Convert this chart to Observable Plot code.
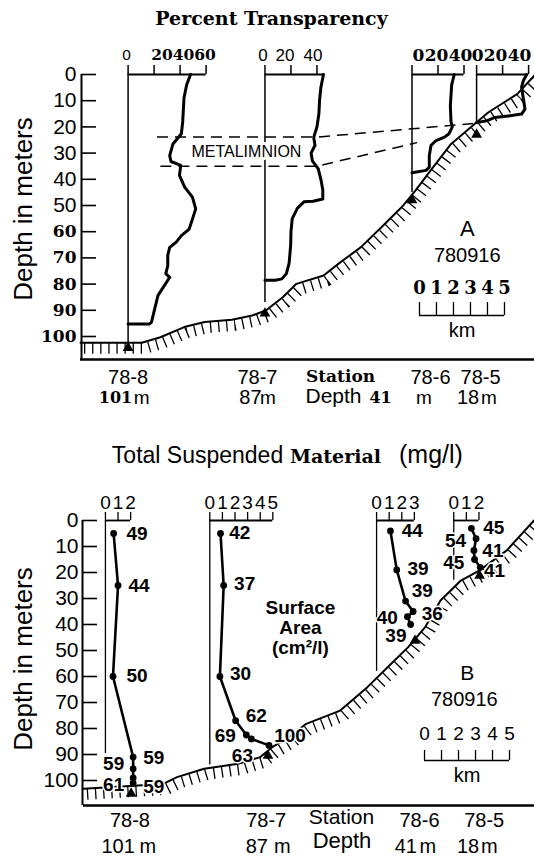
<!DOCTYPE html>
<html>
<head>
<meta charset="utf-8">
<script src="https://cdn.jsdelivr.net/npm/d3@7"></script>
<script src="https://cdn.jsdelivr.net/npm/@observablehq/plot@0.6"></script>
<style>
html,body{margin:0;padding:0;background:#fff;}
#wrap{position:relative;width:534px;height:858px;overflow:hidden;background:#fff;}
#a{position:absolute;left:0;top:0;}
#b{position:absolute;left:0;top:420px;}
svg{display:block;}
</style>
</head>
<body>
<div id="wrap"><div id="a"></div><div id="b"></div></div>
<script>
// ---------------- DATA ----------------
const stations = ["78-8", "78-7", "78-6", "78-5"];
const stationDepths = ["101 m", "87 m", "41 m", "18 m"];
const stationKm = [2.8, 10.85, 19.5, 23.3];           // distance along transect (km)
const depthTicks = [0, 10, 20, 30, 40, 50, 60, 70, 80, 90, 100];
const kmScaleTicks = [0, 1, 2, 3, 4, 5];
const surveyDate = "780916";
const panelLetters = ["A", "B"];

// Panel A: percent transparency
const pctScaleMax = [60, 45, 40, 40];
const pctTicks = [[0, 20, 40, 60], [0, 20, 40], [0, 20, 40], [0, 20, 40]];
const stationLineDepthA = [102.4, 87, 45, 18.8];
const stationMarkDepthA = [102.4, 89.3, 46, 21];

const transp788Depth = [0, 4, 9, 18, 22.6, 26.5, 31, 33.2, 34.7, 38.5, 43, 46.8, 51.3, 55.2, 59, 61.5, 64, 66, 69, 73, 76, 77.4, 80.5, 84.3, 89.4, 94.5, 95.2, 95.2];
const transp788Pct   = [48, 45, 43, 42, 41, 34.5, 32, 33, 40.5, 39.5, 43.5, 49.5, 52, 49.5, 47, 41, 37, 32, 30.5, 30.5, 29, 32, 28, 23, 20.5, 18, 16.5, 0];
const transp787Depth = [0, 5, 10, 15, 20, 24, 27, 30, 33, 36, 40, 44, 47.5, 48.4, 48.6, 51, 55, 60, 65, 72, 76, 78, 78.5, 78.5];
const transp787Pct   = [45, 43, 42, 41.5, 40, 37.5, 38.5, 35.5, 36.5, 41, 43, 44.5, 44.5, 37, 30, 25, 21, 20, 19.8, 18.6, 16.5, 13, 8, 0];
const transp786Depth = [0, 4, 12, 18, 20, 22.6, 23.9, 25.2, 27.1, 31, 35.4, 36.6, 37.5];
const transp786Pct   = [32.5, 30.5, 29.5, 30, 31, 28.5, 25, 18.5, 14.6, 13.3, 13.3, 10.8, 0];
const transp785Depth = [0, 2.3, 4.8, 9.3, 13.2, 15.1, 15.8, 16.4, 17.7, 18.3];
const transp785Pct   = [38.5, 36, 34.6, 36, 37.2, 34.6, 24.4, 14, 7.7, 0];

const metaUpperKm = [4.5, 13.9, 23.1];
const metaUpperDepth = [23.9, 23.9, 18.7];
const metaLowerKm = [4.7, 13.9, 19.8];
const metaLowerDepth = [35, 35, 26];
const metaLabel = "METALIMNION";

const bottomAKm    = [0, 3.6, 4.7, 6.1, 7.3, 8.9, 10.1, 10.9, 11.9, 12.7, 14.3, 15.3, 16.5, 17.7, 18.9, 19.7, 20.6, 21.8, 23.2, 24.0, 25.7, 26.7];
const bottomADepth = [102.4, 102.4, 100.3, 96.4, 94.5, 93.6, 92, 90.1, 85, 79.9, 76.7, 71.6, 65.9, 58.3, 50.6, 44.3, 36.6, 26.5, 18.8, 14.4, 7.4, 0.4];

// Panel B: total suspended material (mg/l) and surface area (cm2/l)
const tsmOriginKm = [1.29, 7.43, 17.24, 21.78];
const tsmScaleMax = [2, 5, 3, 2];
const tsmTicks = [[0, 1, 2], [0, 1, 2, 3, 4, 5], [0, 1, 2, 3], [0, 1, 2]];
const tsmAxisDepth = [89.6, 94, 58, 23];
const stationMarkDepthB = [103.1, 88.5, 44.3, 19.3];

const tsm788Depth = [5, 25, 60, 91, 95.5, 99, 101];
const tsm788      = [0.65, 1.0, 0.6, 2.2, 2.2, 2.2, 2.2];
const sa788       = [49, 44, 50, 59, 59, 61, 59];
const tsm787Depth = [5, 25, 60, 77, 82.5, 84, 86.5];
const tsm787      = [0.85, 1.1, 0.8, 2.05, 2.9, 3.3, 4.7];
const sa787       = [42, 37, 30, 62, 69, 63, 100];
const tsm786Depth = [4, 19, 31, 35, 37, 40];
const tsm786      = [1.1, 1.6, 2.3, 2.9, 2.45, 2.7];
const sa786       = [44, 39, 39, 36, 40, 39];
const tsm785Depth = [3, 7, 11.5, 15, 18];
const tsm785      = [1.4, 1.77, 1.6, 1.65, 2.1];
const sa785       = [45, 54, 41, 45, 41];

const bottomBKm    = [0, 4.7, 5.5, 7.1, 9.1, 10.4, 11.1, 12.1, 13.1, 15.1, 16.7, 18.1, 19.1, 20.1, 21.0, 22.2, 23.3, 24.9, 26.5];
const bottomBDepth = [103.2, 101.3, 98.7, 95.5, 93.6, 91, 87.2, 83.3, 78.2, 73.1, 64.1, 55.1, 48.7, 41, 30.8, 23.1, 19.2, 11.5, 0];

// ---------------- LAYOUT / STYLE ----------------
const PX = 17;                 // pixels per km
const pctKm = 1.3 / PX;        // km per percent
const tsmKm = 12.6 / PX;       // km per mg/l
const SANS = "Liberation Sans, Arial, Helvetica, sans-serif";
const SERIF = "DejaVu Serif, Georgia, serif";
const LAYOUT = {
  pctLabelDx: [[-1.6, 8, 3.5, -1], [-2, -6, -4], [6.5, -1.5, -3.5], [1, -7, -9]],
  pctLabelSerif: [[0, 1, 1, 1], [0, 0, 0], [1, 1, 1], [1, 1, 1]],
  pctLabelSize: [15.5, 17, 17, 17],
  rowDxA: [0, -7.5, 18.5, 4],
  numDxA: [-12.6, -14.5, -31.5, -8.5], unitDxA: [13.5, 3, 11.8, 12.3],
  numSerifA: [1, 0, 1, 0],
  rowDxB: [-1.2, -1.8, 4.5, 4.6],
  numDxB: [-13, -11.2, -9.2, -11.6], unitDxB: [16.7, 14.3, 12.9, 9.8],
  saDx: [[23.5, 21, 24, 20.6, -19.5, -19.5, 20.6], [19.2, 21, 20.6, 20.7, -21, -9, 21], [21.8, 21.3, 16.7, 19.2, -20.2, -14.7], [22.3, -20.6, 19, -20.8, 14.4]],
  saDy: [[0, 0, -1, 1, -5, 6.6, 4], [-1, -2, -3, -5, 1, 16.6, -9], [0, -1, -10, 2, 1, 11.7], [0, 2.5, 1, 3, 4]],
  metaLabel: {km: 9.76, depth: 29.6},
  letterA: {km: 22.75, depth: 58.8}, dateA: {km: 22.75, depth: 69}, barA: {km: 19.94, depth: 92},
  letterB: {km: 22.57, depth: 58.8}, dateB: {km: 22.4, depth: 68.8}, barB: {km: 20.06, depth: 92.3},
  surfLabel: {km: 12.76, depth: 41.2}
};

// ---------------- BUILD ----------------
const idx = d3.range(stations.length);
const asPts = (kms, deps) => kms.map((k, i) => ({km: k, depth: deps[i]}));
const prof = (deps, vals, origin, k) => deps.map((d, i) => ({km: origin + vals[i] * k, depth: d}));
const hatch = {stroke: "#000", strokeWidth: 11, strokeDasharray: "1.3,6.8", strokeLinecap: "butt", strokeLinejoin: "miter", dx: 3.5, dy: 5.5};
const haloText = (data, opts, w = 4) => [
  Plot.text(data, {...opts, fill: "#fff", stroke: "#fff", strokeWidth: w}),
  Plot.text(data, opts)
];

// ---- Panel A ----
const transpDepth = [transp788Depth, transp787Depth, transp786Depth, transp785Depth];
const transpPct = [transp788Pct, transp787Pct, transp786Pct, transp785Pct];
const profilesA = idx.map(i => prof(transpDepth[i], transpPct[i], stationKm[i], pctKm));
const bathyA = asPts(bottomAKm, bottomADepth);
const metaUp = asPts(metaUpperKm, metaUpperDepth);
const metaLo = asPts(metaLowerKm, metaLowerDepth);
const yMaxA = 285 / 2.62;
const pctTickData = idx.flatMap(i => pctTicks[i].map((t, j) => ({
  km: stationKm[i] + t * pctKm,
  lx: stationKm[i] + t * pctKm + LAYOUT.pctLabelDx[i][j] / PX,
  label: String(t), serif: LAYOUT.pctLabelSerif[i][j], size: LAYOUT.pctLabelSize[i]
})));
const numA = idx.map(i => ({i, t: stationDepths[i].split(" ")[0]}));
const unitA = idx.map(i => ({i, t: stationDepths[i].split(" ")[1]}));
const mid = {lineAnchor: "middle", textAnchor: "middle"};

const plotA = Plot.plot({
  width: 534, height: 420, marginTop: 74, marginBottom: 61, marginLeft: 80, marginRight: 0,
  x: {domain: [0, 454 / PX], axis: null},
  y: {domain: [0, yMaxA], reverse: true, axis: null},
  style: {background: "transparent", color: "#000", overflow: "visible"},
  marks: [
    Plot.line(bathyA, {x: "km", y: "depth", ...hatch}),
    Plot.line(bathyA, {x: "km", y: "depth", stroke: "#000", strokeWidth: 2}),
    Plot.ruleX([0], {dx: 1, strokeWidth: 2}),
    Plot.ruleY([yMaxA], {strokeWidth: 2.5}),
    Plot.ruleY(depthTicks, {y: d => d, x1: 0, x2: 0, dx: 1, insetRight: -15, strokeWidth: 1.6}),
    Plot.text(depthTicks.filter(d => d < 60), {x: 0, y: d => d, text: d => String(d), textAnchor: "end", dx: -4, fontSize: 21, fontFamily: SANS}),
    Plot.text(depthTicks.filter(d => d >= 60), {x: 0, y: d => d, text: d => String(d), textAnchor: "end", dx: -4, fontSize: 17, fontFamily: SERIF, fontWeight: "bold"}),
    Plot.text(["Depth in meters"], {frameAnchor: "left", ...mid, rotate: -90, dx: -57, dy: -8, fontSize: 26, fontFamily: SANS}),
    Plot.text(["Percent Transparency"], {frameAnchor: "top", ...mid, dx: -36, dy: -56, fontSize: 19, fontFamily: SERIF, fontWeight: "bold"}),
    // station lines and percent scales
    Plot.ruleX(idx, {x: i => stationKm[i], y1: 0, y2: i => stationLineDepthA[i], strokeWidth: 1.5}),
    Plot.ruleY(idx, {y: 0, x1: i => stationKm[i], x2: i => stationKm[i] + pctScaleMax[i] * pctKm, strokeWidth: 2}),
    Plot.ruleX(pctTickData, {x: "km", y1: 0, y2: 0, insetTop: -9, strokeWidth: 1.5}),
    Plot.text(pctTickData.filter(d => !d.serif), {x: "lx", y: 0, text: "label", dy: -19, fontSize: d => d.size, fontFamily: SANS}),
    Plot.text(pctTickData.filter(d => d.serif), {x: "lx", y: 0, text: "label", dy: -19, fontSize: d => d.size, fontFamily: SERIF, fontWeight: "bold"}),
    // metalimnion
    Plot.line(metaUp, {x: "km", y: "depth", strokeWidth: 1.5, strokeDasharray: "11,7", strokeLinecap: "butt"}),
    Plot.line(metaLo, {x: "km", y: "depth", strokeWidth: 1.5, strokeDasharray: "11,7", strokeLinecap: "butt"}),
    ...haloText([metaLabel], {x: LAYOUT.metaLabel.km, y: LAYOUT.metaLabel.depth, fontSize: 16, fontFamily: SANS}, 6),
    // profiles
    ...profilesA.map(p => Plot.line(p, {x: "km", y: "depth", strokeWidth: 3, strokeLinejoin: "round", strokeLinecap: "round"})),
    Plot.dot(idx, {x: i => stationKm[i], y: i => stationMarkDepthA[i], symbol: "triangle", r: 4, fill: "#000", dy: 5}),
    // station labels
    Plot.text(idx, {x: i => stationKm[i] + LAYOUT.rowDxA[i] / PX, text: i => stations[i], frameAnchor: "bottom", ...mid, dy: 18, fontSize: 20, fontFamily: SANS}),
    Plot.text(["Station"], {frameAnchor: "bottom", ...mid, dx: 33, dy: 17, fontSize: 17, fontFamily: SERIF, fontWeight: "bold"}),
    Plot.text(["Depth"], {frameAnchor: "bottom", ...mid, dx: 26, dy: 37, fontSize: 21, fontFamily: SANS}),
    Plot.text(numA.filter(d => LAYOUT.numSerifA[d.i]), {x: d => stationKm[d.i] + LAYOUT.numDxA[d.i] / PX, text: "t", frameAnchor: "bottom", ...mid, dy: 38, fontSize: 16, fontFamily: SERIF, fontWeight: "bold"}),
    Plot.text(numA.filter(d => !LAYOUT.numSerifA[d.i]), {x: d => stationKm[d.i] + LAYOUT.numDxA[d.i] / PX, text: "t", frameAnchor: "bottom", ...mid, dy: 38, fontSize: 20, fontFamily: SANS}),
    Plot.text(unitA, {x: d => stationKm[d.i] + LAYOUT.unitDxA[d.i] / PX, text: "t", frameAnchor: "bottom", ...mid, dy: 38, fontSize: 19, fontFamily: SANS}),
    // panel annotations
    Plot.text([panelLetters[0]], {x: LAYOUT.letterA.km, y: LAYOUT.letterA.depth, fontSize: 22, fontFamily: SANS}),
    Plot.text([surveyDate], {x: LAYOUT.dateA.km, y: LAYOUT.dateA.depth, fontSize: 20, fontFamily: SANS}),
    Plot.ruleY([LAYOUT.barA.depth], {x1: LAYOUT.barA.km, x2: LAYOUT.barA.km + 5, strokeWidth: 1.6}),
    Plot.ruleX(kmScaleTicks, {x: d => LAYOUT.barA.km + d, y1: LAYOUT.barA.depth, y2: LAYOUT.barA.depth, insetTop: -13, strokeWidth: 1.3}),
    Plot.text(kmScaleTicks, {x: d => LAYOUT.barA.km + d, y: LAYOUT.barA.depth, text: d => String(d), dy: -27, fontSize: 18, fontFamily: SERIF, fontWeight: "bold"}),
    Plot.text(["km"], {x: LAYOUT.barA.km + 2.5, y: LAYOUT.barA.depth, dy: 15, fontSize: 20, fontFamily: SANS})
  ]
});
document.getElementById("a").append(plotA);

// ---- Panel B ----
const tsmDepth = [tsm788Depth, tsm787Depth, tsm786Depth, tsm785Depth];
const tsmVal = [tsm788, tsm787, tsm786, tsm785];
const saVal = [sa788, sa787, sa786, sa785];
const profilesB = idx.map(i => prof(tsmDepth[i], tsmVal[i], tsmOriginKm[i], tsmKm));
const saLabels = idx.flatMap(i => tsmDepth[i].map((d, j) => ({
  km: tsmOriginKm[i] + tsmVal[i][j] * tsmKm + LAYOUT.saDx[i][j] / PX,
  depth: d + LAYOUT.saDy[i][j] / 2.6,
  t: String(saVal[i][j])
})));
const bathyB = asPts(bottomBKm, bottomBDepth);
const yMaxB = 285 / 2.6;
const tsmTickData = idx.flatMap(i => tsmTicks[i].map(t => ({km: tsmOriginKm[i] + t * tsmKm, label: String(t)})));
const numB = idx.map(i => ({i, t: stationDepths[i].split(" ")[0]}));
const unitB = idx.map(i => ({i, t: stationDepths[i].split(" ")[1]}));

const plotB = Plot.plot({
  width: 534, height: 438, marginTop: 100, marginBottom: 53, marginLeft: 83, marginRight: 0,
  x: {domain: [0, 451 / PX], axis: null},
  y: {domain: [0, yMaxB], reverse: true, axis: null},
  style: {background: "transparent", color: "#000", overflow: "visible"},
  marks: [
    Plot.line(bathyB, {x: "km", y: "depth", ...hatch}),
    Plot.line(bathyB, {x: "km", y: "depth", stroke: "#000", strokeWidth: 2}),
    Plot.ruleX([0], {dx: -1, strokeWidth: 2}),
    Plot.ruleY([yMaxB], {strokeWidth: 2.5}),
    Plot.ruleY(depthTicks, {y: d => d, x1: 0, x2: 0, dx: -1, insetRight: -15, strokeWidth: 1.6}),
    Plot.text(depthTicks, {x: 0, y: d => d, text: d => String(d), textAnchor: "end", dx: -5, fontSize: 21, fontFamily: SANS}),
    Plot.text(["Depth in meters"], {frameAnchor: "left", ...mid, rotate: -90, dx: -60, dy: -4, fontSize: 26, fontFamily: SANS}),
    Plot.text(["Total Suspended"], {frameAnchor: "top", lineAnchor: "middle", textAnchor: "end", dx: -25.8, dy: -65, fontSize: 23, fontFamily: SANS}),
    Plot.text(["Material"], {frameAnchor: "top", lineAnchor: "middle", textAnchor: "start", dx: -19, dy: -64, fontSize: 19, fontFamily: SERIF, fontWeight: "bold"}),
    Plot.text(["(mg/l)"], {frameAnchor: "top", lineAnchor: "middle", textAnchor: "start", dx: 90, dy: -66, fontSize: 25, fontFamily: SANS}),
    // TSM scales
    Plot.ruleX(idx, {x: i => tsmOriginKm[i], y1: 0, y2: i => tsmAxisDepth[i], strokeWidth: 1.3}),
    Plot.ruleY(idx, {y: 0, x1: i => tsmOriginKm[i], x2: i => tsmOriginKm[i] + tsmScaleMax[i] * tsmKm, strokeWidth: 1.8}),
    Plot.ruleX(tsmTickData, {x: "km", y1: 0, y2: 0, insetTop: -8, strokeWidth: 1.3}),
    Plot.text(tsmTickData, {x: "km", y: 0, text: "label", dy: -18, fontSize: 19, fontFamily: SANS}),
    // profiles
    ...profilesB.map(p => Plot.line(p, {x: "km", y: "depth", strokeWidth: 2.6, strokeLinejoin: "round"})),
    ...profilesB.map(p => Plot.dot(p, {x: "km", y: "depth", r: 3.4, fill: "#000", stroke: null})),
    ...haloText(saLabels, {x: "km", y: "depth", text: "t", fontSize: 19, fontWeight: "bold", fontFamily: SANS}, 3),
    Plot.text(["Surface\nArea\n(cm²/l)"], {x: LAYOUT.surfLabel.km, y: LAYOUT.surfLabel.depth, fontSize: 19, lineHeight: 1.05, fontWeight: "bold", fontFamily: SANS}),
    Plot.dot(idx, {x: i => stationKm[i], y: i => stationMarkDepthB[i], symbol: "triangle", r: 4, fill: "#000", dy: 5}),
    // station labels
    Plot.text(idx, {x: i => stationKm[i] + LAYOUT.rowDxB[i] / PX, text: i => stations[i], frameAnchor: "bottom", ...mid, dy: 15.5, fontSize: 20, fontFamily: SANS}),
    Plot.text(["Station"], {frameAnchor: "bottom", ...mid, dx: 32.5, dy: 12, fontSize: 21, fontFamily: SANS}),
    Plot.text(["Depth"], {frameAnchor: "bottom", ...mid, dx: 33, dy: 35, fontSize: 22, fontFamily: SANS}),
    Plot.text(numB, {x: d => stationKm[d.i] + LAYOUT.numDxB[d.i] / PX, text: "t", frameAnchor: "bottom", ...mid, dy: 41, fontSize: 20, fontFamily: SANS}),
    Plot.text(unitB, {x: d => stationKm[d.i] + LAYOUT.unitDxB[d.i] / PX, text: "t", frameAnchor: "bottom", ...mid, dy: 41, fontSize: 20, fontFamily: SANS}),
    // panel annotations
    Plot.text([panelLetters[1]], {x: LAYOUT.letterB.km, y: LAYOUT.letterB.depth, fontSize: 21, fontFamily: SANS}),
    Plot.text([surveyDate], {x: LAYOUT.dateB.km, y: LAYOUT.dateB.depth, fontSize: 20, fontFamily: SANS}),
    Plot.ruleY([LAYOUT.barB.depth], {x1: LAYOUT.barB.km, x2: LAYOUT.barB.km + 5, strokeWidth: 1.6}),
    Plot.ruleX(kmScaleTicks, {x: d => LAYOUT.barB.km + d, y1: LAYOUT.barB.depth, y2: LAYOUT.barB.depth, insetTop: -10, strokeWidth: 1.3}),
    Plot.text(kmScaleTicks, {x: d => LAYOUT.barB.km + d, y: LAYOUT.barB.depth, text: d => String(d), dy: -27, fontSize: 19, fontFamily: SANS}),
    Plot.text(["km"], {x: LAYOUT.barB.km + 2.5, y: LAYOUT.barB.depth, dy: 15, fontSize: 20, fontFamily: SANS})
  ]
});
document.getElementById("b").append(plotB);
</script>
</body>
</html>
